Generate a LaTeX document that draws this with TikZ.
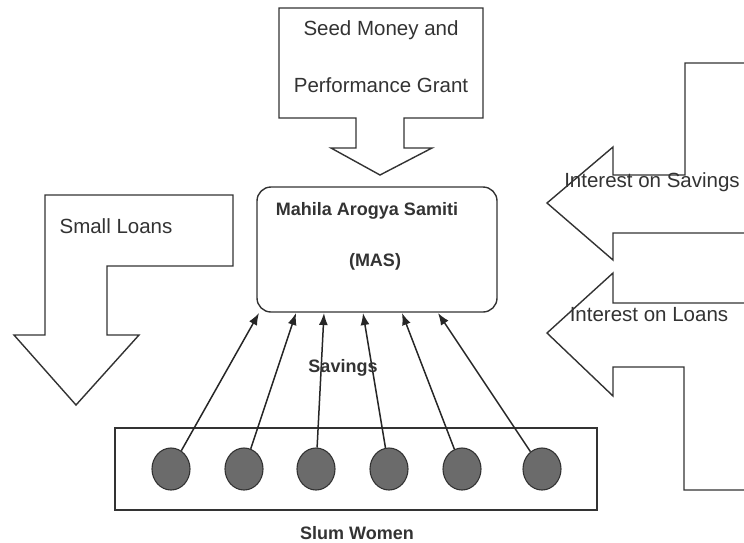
\documentclass[tikz,border=0pt]{standalone}
\usepackage{fontspec}
\setmainfont{Liberation Sans}
\usetikzlibrary{arrows.meta,shapes.geometric}

\tikzset{
  blockarrow/.style={draw=black!80, line width=1.4pt, fill=white, line join=miter},
  lbl/.style={text=black!80, font=\fontsize{20.5}{24}\selectfont},
  blbl/.style={text=black!80, font=\fontsize{18}{22}\selectfont\bfseries},
  woman/.style={ellipse, draw=black!80, line width=1.1pt, fill=black!58,
    minimum width=38pt, minimum height=42pt, inner sep=0pt},
  savearrow/.style={draw=black!85, line width=1.5pt, -{Latex[length=12pt,width=9pt]}}
}

\begin{document}
\begin{tikzpicture}[x=1pt,y=-1pt]
  \useasboundingbox (0,0) rectangle (744,542);
  % Grant arrow
  \draw[blockarrow] (279,8) -- (483,8) -- (483,118) -- (404,118) -- (404,148)
    -- (432,148) -- (380,175) -- (331,148) -- (356,148) -- (356,118) -- (279,118) -- cycle;
  \node[lbl] (seed) at (381,30) {Seed Money and};
  \node[lbl] (grant) at (381,85) {Performance Grant};
  % Loans arrow
  \draw[blockarrow] (45,195) -- (233,195) -- (233,266) -- (107,266) -- (107,335)
    -- (139,335) -- (76,405) -- (14,335) -- (45,335) -- cycle;
  \node[lbl] (loans) at (116,226) {Small Loans};
  % Interest arrows
  \draw[blockarrow] (744,63) -- (685,63) -- (685,175) -- (613,175) -- (613,147)
    -- (547,203) -- (613,260) -- (613,233) -- (744,233);
  \node[lbl] (intsav) at (652,182) {Interest on Savings};
  \draw[blockarrow] (744,303) -- (613,303) -- (613,273) -- (547,333) -- (613,396)
    -- (613,367) -- (684,367) -- (684,490) -- (744,490);
  \node[lbl] (intloan) at (649,315) {Interest on Loans};
  % MAS
  \node[draw=black!80, line width=1.4pt, rounded corners=14pt,
    minimum width=240pt, minimum height=125pt] (mas) at (377,249.5) {};
  \node[blbl] (masname) at (367,211) {Mahila Arogya Samiti};
  \node[blbl] (masabbr) at (375,262) {(MAS)};
  % Women
  \node[draw=black!80, line width=1.4pt, minimum width=482pt,
    minimum height=82pt] (group) at (356,469) {};
  \foreach \i/\x/\t in {1/171/259, 2/244/296, 3/316/324, 4/389/363, 5/462/402, 6/542/438} {
    \node[woman] (w\i) at (\x,469) {};
    \coordinate (m\i) at (\t,313);
    \draw[savearrow] (w\i) -- (m\i);
  }
  \node[blbl] (savings) at (343,368) {Savings};
  \node[blbl] (slum) at (357,533) {Slum Women};
\end{tikzpicture}
\end{document}
